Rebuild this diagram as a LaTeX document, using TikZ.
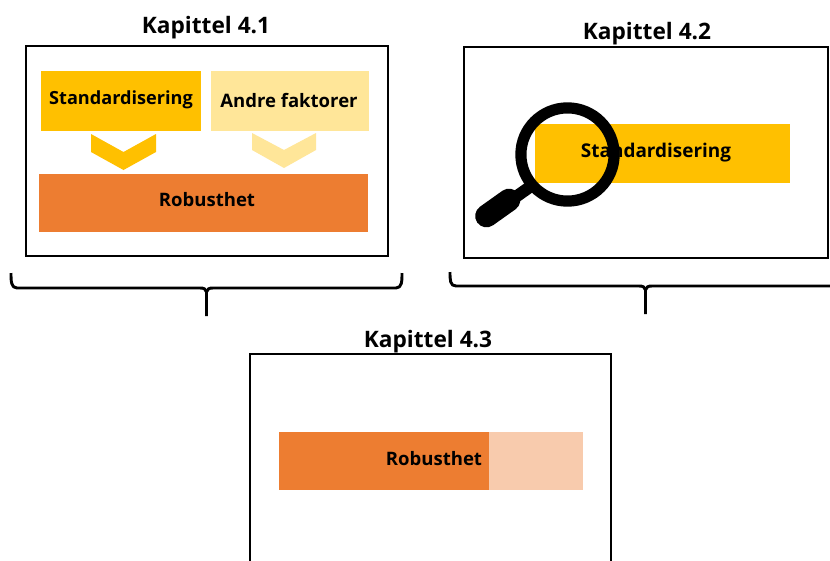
\documentclass[tikz,border=0pt]{standalone}
\usepackage{fontspec}
\setmainfont{Open Sans}
\definecolor{gold}{HTML}{FFC000}
\definecolor{lightgold}{HTML}{FFE699}
\definecolor{orange2}{HTML}{ED7D31}
\definecolor{lightorange}{HTML}{F8CBAD}
\tikzset{
  x=0.75pt,y=-0.75pt,
  frame/.style={draw=black,line width=2.2pt,fill=white},
  bar/.style={inner sep=0pt,outer sep=0pt,font=\fontsize{13.9pt}{15pt}\selectfont\bfseries},
  title/.style={inner sep=0pt,font=\fontsize{17pt}{19pt}\selectfont\bfseries},
  bracepath/.style={draw=black,line width=2.2pt,line join=round},
}
\begin{document}
\begin{tikzpicture}
\useasboundingbox (0,0) rectangle (830,560);
\begin{scope}
\clip (0,0) rectangle (830,560);
% frames
\draw[frame] (26,46) rectangle (388,256);
\draw[frame] (464,47) rectangle (828,258);
\draw[frame] (250,354) rectangle (611,580);
% titles
\node[title] (t1) at (206,28) {Kapittel 4.1};
\node[title] (t2) at (647,34) {Kapittel 4.2};
\node[title] (t3) at (428,342) {Kapittel 4.3};
% left panel
\fill[gold] (41,71) rectangle (201,131);
\node[bar,font=\fontsize{13.6pt}{15pt}\selectfont\bfseries] (s1) at (121,100) {Standardisering};
\fill[lightgold] (211,71) rectangle (369,131);
\node[bar] (a1) at (289,100) {Andre faktorer};
\fill[gold] (91,134) -- (123.5,152) -- (156,134) -- (156,152) -- (123.5,170) -- (91,152) -- cycle;
\fill[lightgold] (252,133) -- (284,150) -- (316,133) -- (316,150) -- (284,168) -- (252,150) -- cycle;
\fill[orange2] (39,174) rectangle (368,232);
\node[bar] (r1) at (207,200) {Robusthet};
% right panel
\fill[gold] (535,124) rectangle (790,183);
\node[bar,font=\fontsize{14.2pt}{15pt}\selectfont\bfseries] (s2) at (656,153) {Standardisering};
% magnifier
\draw[line width=8.4pt] (567.5,154.5) circle (46.6);
\draw[line width=9pt] (534,184) -- (510,201);
\draw[line width=17pt,line cap=round] (509,200) -- (486.5,216);
% bottom panel
\fill[orange2] (279,432) rectangle (489,490);
\fill[lightorange] (489,432) rectangle (583,490);
\node[bar] (r2) at (434,459) {Robusthet};
% braces
\draw[bracepath] (11,273) .. controls (11,281) and (11,288) .. (17,288) -- (200,288)
   .. controls (204,288) and (206,289) .. (206.5,292) -- (206.5,316);
\draw[bracepath] (402,273) .. controls (402,281) and (402,288) .. (396,288) -- (213,288)
   .. controls (209,288) and (207,289) .. (206.5,292);
\draw[bracepath] (450,272) .. controls (450,280) and (450,286) .. (456,286) -- (639,286)
   .. controls (643,286) and (645,287) .. (645.5,290) -- (645.5,314);
\draw[bracepath] (841,272) .. controls (841,280) and (841,286) .. (835,286) -- (652,286)
   .. controls (648,286) and (646,287) .. (645.5,290);
\end{scope}
\end{tikzpicture}
\end{document}
